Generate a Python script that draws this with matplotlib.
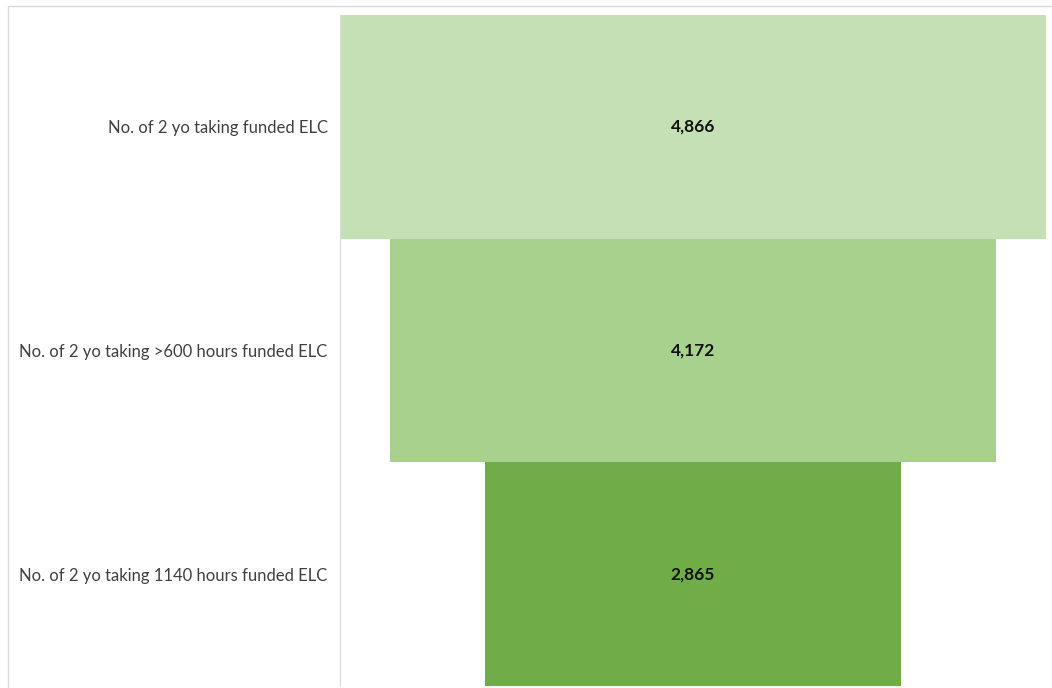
import matplotlib.pyplot as plt
from matplotlib.patches import Rectangle

categories = ['No. of 2 yo taking funded ELC',
              'No. of 2 yo taking >600 hours funded ELC',
              'No. of 2 yo taking 1140 hours funded ELC']
values = [4866, 4172, 2865]
colors = ['#C5E0B4', '#A9D18E', '#70AD47']

plt.rcParams['font.family'] = ['Lato', 'DejaVu Sans']

fig = plt.figure(figsize=(10.52, 6.88), dpi=100)
ax = fig.add_axes([340 / 1052, 2 / 688, 706 / 1052, 671 / 688])

y = list(range(len(values)))
ax.barh(y, values, left=[-v / 2 for v in values], height=1.0, color=colors)
for yi, v in zip(y, values):
    ax.text(0, yi, f'{v:,}', ha='center', va='center', fontsize=12.5, fontweight='bold',
            color='#111111')

ax.set_xlim(-max(values) / 2, max(values) / 2)
ax.set_ylim(len(values) - 0.5, -0.5)
ax.set_yticks(y)
ax.set_yticklabels(categories, fontsize=12, color='#404040')
ax.tick_params(axis='y', length=0, pad=9)
ax.set_xticks([])
for s in ['top', 'right', 'bottom']:
    ax.spines[s].set_visible(False)
ax.spines['left'].set_color('#D9D9D9')

fig.patches.append(Rectangle((8 / 1052, -0.1), 1.2, 1 - 6 / 688 + 0.1, transform=fig.transFigure,
                             fill=False, edgecolor='#D9D9D9', linewidth=1))

fig.savefig('out.png', dpi=100)
